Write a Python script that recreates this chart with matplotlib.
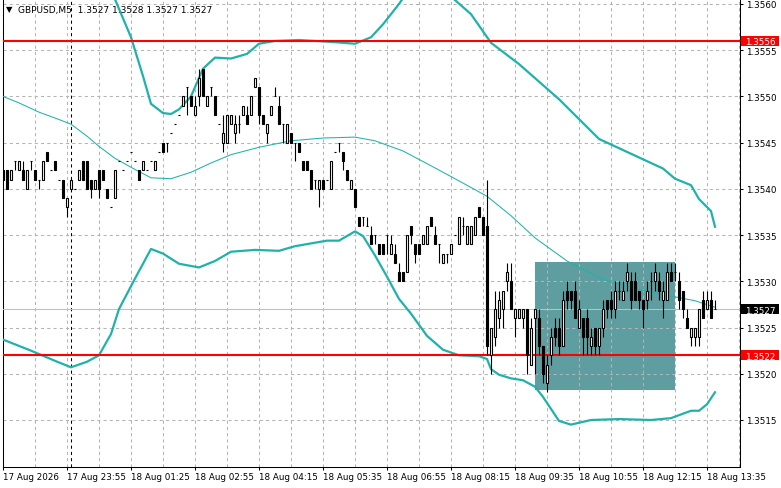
import numpy as np
import matplotlib
matplotlib.use("Agg")
import matplotlib.pyplot as plt
from matplotlib.patches import Rectangle

symbol = "GBPUSD,M5"

# 5-minute bars, oldest first
opens = [
    1.3542, 1.3542, 1.3541, 1.3543, 1.3542, 1.3542, 1.3540, 1.3543, 1.3542, 1.3541,
    1.3541, 1.3544, 1.3542, 1.3543, 1.3541, 1.3541, 1.3538, 1.3540, 1.3540, 1.3541,
    1.3543, 1.3543, 1.3541, 1.3540, 1.3542, 1.3542, 1.3540, 1.3538, 1.3539, 1.3543,
    1.3542, 1.3543, 1.3544, 1.3543, 1.3542, 1.3542, 1.3542, 1.3543, 1.3542, 1.3544,
    1.3545, 1.3545, 1.3546, 1.3547, 1.3548, 1.3549, 1.3551, 1.3550, 1.3548, 1.3550,
    1.3553, 1.3549, 1.3551, 1.3550, 1.3547, 1.3545, 1.3545, 1.3547, 1.3546, 1.3547,
    1.3548, 1.3548, 1.3548, 1.3551, 1.3551, 1.3548, 1.3546, 1.3548, 1.3550, 1.3549,
    1.3547, 1.3545, 1.3546, 1.3545, 1.3545, 1.3543, 1.3543, 1.3542, 1.3541, 1.3540,
    1.3541, 1.3541, 1.3540, 1.3544, 1.3545, 1.3544, 1.3542, 1.3540, 1.3540, 1.3537,
    1.3537, 1.3536, 1.3535, 1.3535, 1.3534, 1.3534, 1.3535, 1.3533, 1.3533, 1.3531,
    1.3531, 1.3531, 1.3536, 1.3534, 1.3534, 1.3534, 1.3534, 1.3537, 1.3535, 1.3534,
    1.3532, 1.3533, 1.3533, 1.3535, 1.3534, 1.3536, 1.3534, 1.3534, 1.3535, 1.3538,
    1.3537, 1.3536, 1.3522, 1.3524, 1.3526, 1.3527, 1.3530, 1.3530, 1.3526, 1.3526,
    1.3526, 1.3527, 1.3521, 1.3526, 1.3526, 1.3523, 1.3519, 1.3522, 1.3525, 1.3525,
    1.3523, 1.3529, 1.3529, 1.3529, 1.3525, 1.3526, 1.3526, 1.3523, 1.3525, 1.3523,
    1.3525, 1.3528, 1.3528, 1.3527, 1.3529, 1.3528, 1.3530, 1.3530, 1.3530, 1.3529,
    1.3528, 1.3528, 1.3530, 1.3530, 1.3530, 1.3528, 1.3528, 1.3531, 1.3531, 1.3530,
    1.3529, 1.3526, 1.3524, 1.3524, 1.3524, 1.3528, 1.3527, 1.3528, 1.3527,
]
highs = [
    1.3542, 1.3542, 1.3542, 1.3543, 1.3543, 1.3543, 1.3542, 1.3543, 1.3542, 1.3541,
    1.3543, 1.3544, 1.3542, 1.3543, 1.3541, 1.3541, 1.3539, 1.3541, 1.3540, 1.3542,
    1.3543, 1.3543, 1.3541, 1.3541, 1.3542, 1.3542, 1.3540, 1.3538, 1.3542, 1.3543,
    1.3542, 1.3543, 1.3544, 1.3543, 1.3542, 1.3543, 1.3542, 1.3543, 1.3543, 1.3544,
    1.3545, 1.3545, 1.3546, 1.3547, 1.3548, 1.3550, 1.3551, 1.3550, 1.3550, 1.3553,
    1.3553, 1.3550, 1.3551, 1.3550, 1.3547, 1.3548, 1.3548, 1.3548, 1.3548, 1.3548,
    1.3549, 1.3549, 1.3550, 1.3552, 1.3551, 1.3548, 1.3547, 1.3549, 1.3551, 1.3550,
    1.3547, 1.3547, 1.3546, 1.3545, 1.3545, 1.3543, 1.3543, 1.3542, 1.3541, 1.3541,
    1.3541, 1.3541, 1.3543, 1.3544, 1.3545, 1.3544, 1.3542, 1.3541, 1.3540, 1.3537,
    1.3537, 1.3537, 1.3536, 1.3535, 1.3534, 1.3534, 1.3535, 1.3535, 1.3534, 1.3532,
    1.3531, 1.3535, 1.3536, 1.3534, 1.3534, 1.3535, 1.3536, 1.3537, 1.3536, 1.3534,
    1.3533, 1.3533, 1.3534, 1.3535, 1.3537, 1.3537, 1.3536, 1.3536, 1.3537, 1.3538,
    1.3537, 1.3541, 1.3525, 1.3529, 1.3529, 1.3529, 1.3532, 1.3532, 1.3527, 1.3527,
    1.3527, 1.3527, 1.3526, 1.3527, 1.3527, 1.3523, 1.3522, 1.3525, 1.3526, 1.3526,
    1.3529, 1.3530, 1.3529, 1.3530, 1.3528, 1.3526, 1.3527, 1.3525, 1.3525, 1.3525,
    1.3528, 1.3528, 1.3529, 1.3530, 1.3530, 1.3530, 1.3532, 1.3531, 1.3531, 1.3529,
    1.3528, 1.3530, 1.3531, 1.3532, 1.3531, 1.3530, 1.3532, 1.3532, 1.3532, 1.3531,
    1.3529, 1.3527, 1.3525, 1.3525, 1.3527, 1.3529, 1.3529, 1.3529, 1.3528,
]
lows = [
    1.3541, 1.3540, 1.3541, 1.3542, 1.3542, 1.3541, 1.3540, 1.3542, 1.3541, 1.3540,
    1.3541, 1.3543, 1.3542, 1.3542, 1.3541, 1.3539, 1.3537, 1.3540, 1.3540, 1.3541,
    1.3541, 1.3540, 1.3539, 1.3540, 1.3539, 1.3541, 1.3539, 1.3538, 1.3539, 1.3543,
    1.3542, 1.3543, 1.3544, 1.3543, 1.3541, 1.3542, 1.3542, 1.3543, 1.3542, 1.3544,
    1.3544, 1.3544, 1.3546, 1.3547, 1.3548, 1.3549, 1.3548, 1.3549, 1.3548, 1.3549,
    1.3550, 1.3549, 1.3550, 1.3548, 1.3547, 1.3544, 1.3545, 1.3547, 1.3545, 1.3546,
    1.3548, 1.3547, 1.3548, 1.3551, 1.3547, 1.3547, 1.3545, 1.3548, 1.3550, 1.3547,
    1.3545, 1.3545, 1.3545, 1.3543, 1.3544, 1.3542, 1.3542, 1.3540, 1.3540, 1.3538,
    1.3540, 1.3541, 1.3540, 1.3544, 1.3544, 1.3542, 1.3541, 1.3540, 1.3538, 1.3536,
    1.3536, 1.3536, 1.3534, 1.3534, 1.3533, 1.3533, 1.3533, 1.3533, 1.3532, 1.3530,
    1.3530, 1.3531, 1.3534, 1.3532, 1.3533, 1.3534, 1.3534, 1.3536, 1.3534, 1.3532,
    1.3532, 1.3532, 1.3533, 1.3535, 1.3534, 1.3535, 1.3534, 1.3534, 1.3535, 1.3537,
    1.3535, 1.3522, 1.3520, 1.3523, 1.3525, 1.3525, 1.3529, 1.3527, 1.3524, 1.3526,
    1.3525, 1.3520, 1.3521, 1.3520, 1.3522, 1.3519, 1.3518, 1.3521, 1.3523, 1.3522,
    1.3523, 1.3527, 1.3527, 1.3526, 1.3525, 1.3522, 1.3522, 1.3522, 1.3522, 1.3522,
    1.3524, 1.3526, 1.3526, 1.3526, 1.3528, 1.3528, 1.3529, 1.3527, 1.3528, 1.3527,
    1.3525, 1.3527, 1.3528, 1.3529, 1.3528, 1.3526, 1.3528, 1.3530, 1.3530, 1.3527,
    1.3526, 1.3525, 1.3523, 1.3523, 1.3523, 1.3526, 1.3527, 1.3526, 1.3527,
]
closes = [
    1.3541, 1.3540, 1.3542, 1.3543, 1.3543, 1.3541, 1.3542, 1.3543, 1.3541, 1.3541,
    1.3543, 1.3543, 1.3542, 1.3542, 1.3541, 1.3539, 1.3539, 1.3541, 1.3540, 1.3542,
    1.3541, 1.3540, 1.3540, 1.3541, 1.3540, 1.3541, 1.3539, 1.3538, 1.3542, 1.3543,
    1.3542, 1.3543, 1.3544, 1.3543, 1.3541, 1.3543, 1.3542, 1.3543, 1.3543, 1.3544,
    1.3544, 1.3545, 1.3546, 1.3547, 1.3548, 1.3550, 1.3551, 1.3549, 1.3549, 1.3552,
    1.3550, 1.3550, 1.3551, 1.3548, 1.3547, 1.3546, 1.3548, 1.3548, 1.3547, 1.3547,
    1.3549, 1.3547, 1.3550, 1.3552, 1.3548, 1.3547, 1.3547, 1.3549, 1.3550, 1.3547,
    1.3547, 1.3547, 1.3545, 1.3545, 1.3544, 1.3542, 1.3542, 1.3540, 1.3541, 1.3541,
    1.3540, 1.3541, 1.3543, 1.3544, 1.3545, 1.3543, 1.3541, 1.3541, 1.3538, 1.3536,
    1.3537, 1.3536, 1.3534, 1.3535, 1.3533, 1.3533, 1.3535, 1.3534, 1.3532, 1.3530,
    1.3530, 1.3535, 1.3535, 1.3533, 1.3533, 1.3535, 1.3536, 1.3536, 1.3534, 1.3534,
    1.3533, 1.3533, 1.3534, 1.3535, 1.3537, 1.3536, 1.3536, 1.3536, 1.3537, 1.3537,
    1.3535, 1.3523, 1.3525, 1.3527, 1.3528, 1.3529, 1.3531, 1.3527, 1.3527, 1.3527,
    1.3527, 1.3522, 1.3525, 1.3527, 1.3523, 1.3520, 1.3521, 1.3524, 1.3524, 1.3523,
    1.3528, 1.3528, 1.3528, 1.3526, 1.3527, 1.3524, 1.3524, 1.3524, 1.3523, 1.3525,
    1.3527, 1.3527, 1.3527, 1.3529, 1.3529, 1.3529, 1.3531, 1.3528, 1.3528, 1.3528,
    1.3527, 1.3529, 1.3530, 1.3531, 1.3529, 1.3529, 1.3531, 1.3530, 1.3531, 1.3528,
    1.3527, 1.3525, 1.3525, 1.3525, 1.3527, 1.3526, 1.3528, 1.3526, 1.3527,
]

time_labels = ["17 Aug 2026", "17 Aug 23:55", "18 Aug 01:25", "18 Aug 02:55",
               "18 Aug 04:15", "18 Aug 05:35", "18 Aug 06:55", "18 Aug 08:15",
               "18 Aug 09:35", "18 Aug 10:55", "18 Aug 12:15", "18 Aug 13:35"]

# Bollinger bands, read at a number of bars (bar index, price)
upper_x = [24, 28, 32, 35, 37, 40, 42, 44, 47, 50, 53, 57, 61, 64, 68, 74, 82, 88,
           92, 95, 99, 103, 108, 112, 117, 122, 129, 139, 149, 157, 165, 168, 172,
           174, 177, 178]
upper_y = [1.3568, 1.35605, 1.35564, 1.35522, 1.35492, 1.35482, 1.35481, 1.35486,
           1.35500, 1.35530, 1.35542, 1.35541, 1.35546, 1.35557, 1.35560, 1.35561,
           1.35559, 1.35557, 1.35564, 1.35578, 1.35600, 1.35625, 1.3563, 1.35608,
           1.35589, 1.35558, 1.35535, 1.35497, 1.35454, 1.35438, 1.35422, 1.35411,
           1.35404, 1.35389, 1.35376, 1.35359]
middle_x = [0, 4, 9, 14, 17, 21, 24, 28, 33, 37, 42, 47, 52, 57, 64, 72, 80, 88, 93,
            100, 107, 113, 121, 127, 133, 141, 150, 158, 167, 173, 178]
middle_y = [1.35500, 1.35493, 1.35483, 1.35475, 1.35470, 1.35457, 1.35446, 1.35433,
            1.35421, 1.35412, 1.35411, 1.35418, 1.35428, 1.35437, 1.35445, 1.35452,
            1.35455, 1.35456, 1.35452, 1.35441, 1.35425, 1.35411, 1.35392, 1.35371,
            1.35347, 1.35322, 1.35302, 1.35292, 1.35284, 1.35279, 1.35272]
lower_x = [0, 7, 13, 17, 21, 24, 27, 29, 33, 37, 40, 44, 49, 53, 57, 63, 69, 73, 81,
           84, 88, 90, 93, 96, 99, 102, 106, 110, 114, 119, 121, 122, 124, 127, 130,
           133, 135, 137, 139, 142, 147, 154, 162, 167, 172, 174, 176, 178]
lower_y = [1.35237, 1.35225, 1.35214, 1.35207, 1.35213, 1.35220, 1.35243, 1.35270,
           1.35303, 1.35335, 1.35330, 1.35319, 1.35315, 1.35322, 1.35332, 1.35334,
           1.35333, 1.35338, 1.35344, 1.35344, 1.35354, 1.35349, 1.35328, 1.35305,
           1.35281, 1.35265, 1.35241, 1.35226, 1.35220, 1.35219, 1.35216, 1.35205,
           1.35199, 1.35195, 1.35193, 1.35186, 1.35175, 1.35162, 1.35149, 1.35145,
           1.35150, 1.35151, 1.35150, 1.35152, 1.35160, 1.35160, 1.35167, 1.35180]

level_hi = 1.3556
level_lo = 1.3522
box_bars = (133, 168)
box_prices = (1.35182, 1.35321)
day_break = 17

W, H = 781, 489
plt.rcParams['font.family'] = ['DejaVu Sans']
fig = plt.figure(figsize=(W / 100, H / 100), dpi=100)
ax = fig.add_axes([2.5 / W, 21.5 / H, 737.5 / W, 466.5 / H])
ax.set_xlim(-0.125, 184.25)
ax.set_ylim(1.350997, 1.356043)

o = np.array(opens)
h = np.array(highs)
l = np.array(lows)
c = np.array(closes)
idx = np.arange(len(c))

grid_col = '#b4b4b4'
dash = (0, (3, 3))
band_col = '#20b2aa'

# rectangle object
ax.add_patch(Rectangle((box_bars[0], box_prices[0]), box_bars[1] - box_bars[0],
                       box_prices[1] - box_prices[0], facecolor='#5f9ea0',
                       edgecolor='none', zorder=1))

# grid
ax.set_xticks(idx[::16])
ax.set_xticklabels(time_labels)
ax.set_xticks(np.arange(0, 185, 8), minor=True)
yt = np.round(np.arange(1.3515, 1.35601, 0.0005), 4)
ax.set_yticks(yt)
ax.set_yticklabels([f"{v:.4f}" for v in yt])
ax.yaxis.tick_right()
ax.grid(True, which='both', axis='x', color=grid_col, lw=0.75, ls=dash)
ax.grid(True, which='major', axis='y', color=grid_col, lw=0.75, ls=dash)
ax.tick_params(which='minor', length=0)
ax.tick_params(which='major', direction='out', length=2.5, width=0.75,
               labelsize=6.3, pad=1.5, colors='black')
for lab in ax.get_xticklabels():
    lab.set_ha('left')
for sp in ['left', 'right', 'bottom']:
    ax.spines[sp].set_linewidth(0.75)
ax.spines['top'].set_visible(False)

# day separator, levels, current price
ax.axvline(day_break, color='black', lw=0.75, ls=dash, zorder=2.6)
ax.axhline(c[-1], color='#c0c0c0', lw=0.75, zorder=2.6)
ax.axhline(level_hi, color='red', lw=1.5, zorder=3.5)
ax.axhline(level_lo, color='red', lw=1.5, zorder=3.5)

# bollinger bands
ax.plot(upper_x, upper_y, color=band_col, lw=1.6, zorder=3, solid_joinstyle='round')
ax.plot(lower_x, lower_y, color=band_col, lw=1.6, zorder=3, solid_joinstyle='round')
ax.plot(middle_x, middle_y, color=band_col, lw=0.75, zorder=3)

# bars
ax.vlines(idx, l, h, color='black', lw=0.8, zorder=4)
face = np.where(c > o, 'white', 'black')
ax.bar(idx, c - o, bottom=o, width=0.5, color=face, edgecolor='black',
       linewidth=0.8, zorder=5)

# price tags on the right scale
ytr = ax.get_yaxis_transform()
tag_h = 10 / 92440
for val, col in [(level_hi, 'red'), (level_lo, 'red'), (c[-1], 'black')]:
    ax.add_patch(Rectangle((1.0014, val - tag_h / 2), 0.0515, tag_h,
                           transform=ytr, facecolor=col, edgecolor='none',
                           clip_on=False, zorder=6))
    ax.text(1.0075, val, f"{val:.4f}", transform=ytr, ha='left',
            va='center_baseline', fontsize=6.3, color='white', zorder=7,
            clip_on=False)

# header
fig.text(6 / W, 1 - 10 / H, "\u25bc", fontsize=6, va='center', ha='left')
fig.text(18 / W, 1 - 10 / H,
         f"{symbol}  {o[-1]:.4f} {h[-1]:.4f} {l[-1]:.4f} {c[-1]:.4f}",
         fontsize=6.5, va='center', ha='left')

fig.savefig('out.png', dpi=100, facecolor='white')
